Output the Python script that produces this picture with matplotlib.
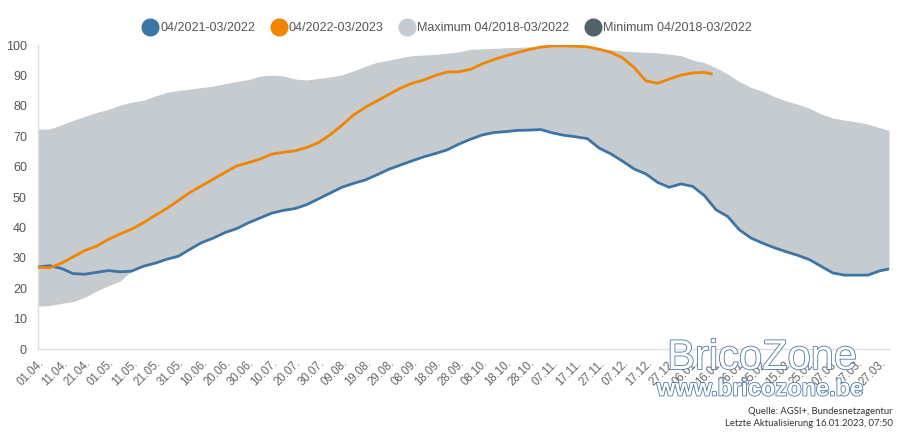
import numpy as np
import matplotlib
matplotlib.use("Agg")
import matplotlib.pyplot as plt
from matplotlib.lines import Line2D
import matplotlib.patheffects as pe

plt.rcParams['font.family'] = ['Liberation Sans', 'DejaVu Sans']

# day offsets from 01.04.
days = [0, 5, 10, 15, 20, 25, 30, 35, 40, 45, 50, 55, 60, 65, 70, 75, 80, 85, 90, 95,
        100, 105, 110, 115, 120, 125, 130, 135, 140, 145, 150, 155, 160, 165, 170, 175,
        180, 185, 190, 195, 200, 205, 210, 215, 220, 225, 230, 235, 240, 245, 250, 255,
        260, 265, 270, 275, 280, 285, 290, 295, 300, 305, 310, 315, 320, 325, 330, 335,
        340, 345, 350, 355, 360, 364]

maximum = [72.3, 72.4, 73.7, 75.2, 76.5, 77.8, 78.8, 80.2, 81.2, 81.8, 83.2, 84.4, 85.0,
           85.5, 86.0, 86.5, 87.3, 88.0, 88.6, 89.8, 90.1, 89.8, 88.8, 88.5, 89.0, 89.5,
           90.2, 91.5, 93.0, 94.3, 95.0, 95.8, 96.5, 96.7, 96.9, 97.3, 97.7, 98.6, 98.7,
           98.9, 99.1, 99.2, 99.4, 99.6, 99.7, 99.7, 99.6, 99.4, 99.0, 98.4, 98.0, 97.8,
           97.6, 97.4, 97.0, 96.5, 95.1, 94.2, 92.5, 90.5, 88.0, 86.0, 84.8, 83.0, 81.6,
           80.5, 79.2, 77.3, 76.0, 75.3, 74.7, 74.0, 72.8, 71.9]

series_2021 = [27.0, 27.4, 26.5, 24.8, 24.6, 25.2, 25.8, 25.4, 25.6, 27.2, 28.2, 29.5, 30.5,
               32.8, 35.0, 36.5, 38.3, 39.6, 41.5, 43.1, 44.7, 45.6, 46.2, 47.5, 49.4, 51.3,
               53.2, 54.5, 55.6, 57.3, 59.1, 60.5, 61.9, 63.2, 64.3, 65.5, 67.4, 69.0, 70.4,
               71.2, 71.5, 71.9, 72.0, 72.2, 71.1, 70.3, 69.8, 69.2, 66.1, 64.2, 61.8, 59.2,
               57.6, 54.8, 53.2, 54.3, 53.5, 50.5, 45.8, 43.6, 39.2, 36.5, 34.8, 33.3, 32.0,
               30.8, 29.4, 27.2, 25.0, 24.3, 24.3, 24.3, 25.7, 26.3]

minimum = [14.1, 14.3, 15.0, 15.6, 17.0, 19.0, 20.8, 22.3, 25.6, 27.2, 28.2, 29.5, 30.5,
           32.8, 35.0, 36.5, 38.3, 39.6, 41.5, 43.1, 44.7, 45.6, 46.2, 47.5, 49.4, 51.3,
           53.2, 54.5, 55.6, 57.3, 59.1, 60.5, 61.9, 63.2, 64.3, 65.5, 67.4, 69.0, 70.4,
           71.2, 71.5, 71.9, 72.0, 72.2, 71.1, 70.3, 69.8, 69.2, 66.1, 64.2, 61.8, 59.2,
           57.6, 54.8, 53.2, 54.3, 53.5, 50.5, 45.8, 43.6, 39.2, 36.5, 34.8, 33.3, 32.0,
           30.8, 29.4, 27.2, 25.0, 24.3, 24.3, 24.3, 25.7, 26.3]

days_2022 = [0, 5, 10, 15, 20, 25, 30, 35, 40, 45, 50, 55, 60, 65, 70, 75, 80, 85, 90, 95,
             100, 105, 110, 115, 120, 125, 130, 135, 140, 145, 150, 155, 160, 165, 170, 175,
             180, 185, 190, 195, 200, 205, 210, 215, 220, 225, 230, 235, 240, 245, 250, 255,
             260, 265, 270, 275, 280, 285, 288]
series_2022 = [26.9, 26.7, 28.2, 30.3, 32.4, 33.8, 36.0, 37.8, 39.4, 41.5, 43.9, 46.2, 48.8,
               51.5, 53.7, 55.9, 58.1, 60.2, 61.3, 62.5, 64.1, 64.7, 65.2, 66.3, 67.9, 70.5,
               73.6, 77.0, 79.5, 81.6, 83.7, 85.8, 87.4, 88.5, 90.0, 91.1, 91.2, 92.0, 93.8,
               95.2, 96.4, 97.5, 98.5, 99.3, 99.7, 99.7, 99.6, 99.4, 98.6, 97.6, 95.8, 92.6,
               88.2, 87.4, 88.8, 90.1, 90.8, 91.0, 90.5]

tick_days = list(range(0, 361, 10))
tick_labels = ["01.04.", "11.04.", "21.04.", "01.05.", "11.05.", "21.05.", "31.05.",
               "10.06.", "20.06.", "30.06.", "10.07.", "20.07.", "30.07.", "09.08.",
               "19.08.", "29.08.", "08.09.", "18.09.", "28.09.", "08.10.", "18.10.",
               "28.10.", "07.11.", "17.11.", "27.11.", "07.12.", "17.12.", "27.12.",
               "06.01.", "16.01.", "26.01.", "05.02.", "15.02.", "25.02.", "07.03.",
               "17.03.", "27.03."]

c_2021 = '#3a75a5'
c_2022 = '#f28500'
c_max = '#c5cbcf'
c_min = '#52626b'
txt = '#555555'

fig = plt.figure(figsize=(9.06, 4.34), dpi=100)
ax = fig.add_axes([38/906, 85/434, 851/906, 304/434])

ax.fill_between(days, minimum, maximum, color=c_max, linewidth=0, zorder=1)
ax.plot(days, series_2021, color=c_2021, lw=2.0, zorder=3, solid_joinstyle='round')
ax.plot(days_2022, series_2022, color=c_2022, lw=2.0, zorder=4, solid_joinstyle='round')

ax.set_xlim(0, 364)
ax.set_ylim(0, 100)
ax.set_yticks(range(0, 101, 10))
ax.set_xticks(tick_days)
ax.set_xticklabels(tick_labels, rotation=45, ha='right', va='top',
                   rotation_mode='anchor', fontsize=8.3, color='#666666')
ax.tick_params(axis='x', length=0, pad=6)
ax.tick_params(axis='y', length=0, pad=8, labelsize=9, labelcolor=txt)
for s in ['top', 'right']:
    ax.spines[s].set_visible(False)
for s in ['left', 'bottom']:
    ax.spines[s].set_color('#dddddd')
    ax.spines[s].set_linewidth(1)

handles = [Line2D([], [], ls='none', marker='o', markersize=12, color=c)
           for c in [c_2021, c_2022, c_max, c_min]]
labels = ['04/2021-03/2022', '04/2022-03/2023', 'Maximum 04/2018-03/2022',
          'Minimum 04/2018-03/2022']
leg = fig.legend(handles, labels, loc='center', bbox_to_anchor=(447/906, 1 - 28/434),
                 ncol=4, frameon=False, fontsize=9, handletextpad=0.15,
                 columnspacing=1.25, handlelength=1.3)
for t in leg.get_texts():
    t.set_color(txt)

# watermark
wm_stroke = [pe.withStroke(linewidth=1.2, foreground='#4d78a6')]
fig.text(762/906, 1 - 358/434, 'BricoZone', ha='center', va='center', fontsize=30,
         color='white', path_effects=wm_stroke, zorder=10)
fig.text(760/906, 1 - 389/434, 'www.bricozone.be', ha='center', va='center', fontsize=17,
         fontweight='bold', color='white', path_effects=wm_stroke, zorder=10)

# source texts
fig.text(893/906, 1 - 411/434, 'Quelle: AGSI+, Bundesnetzagentur', ha='right',
         va='center', fontsize=6.8, color='#333333', family='Lato')
fig.text(893/906, 1 - 424/434, 'Letzte Aktualisierung 16.01.2023, 07:50',
         ha='right', va='center', fontsize=6.8, color='#333333', family='Lato')

fig.savefig('out.png', dpi=100)
